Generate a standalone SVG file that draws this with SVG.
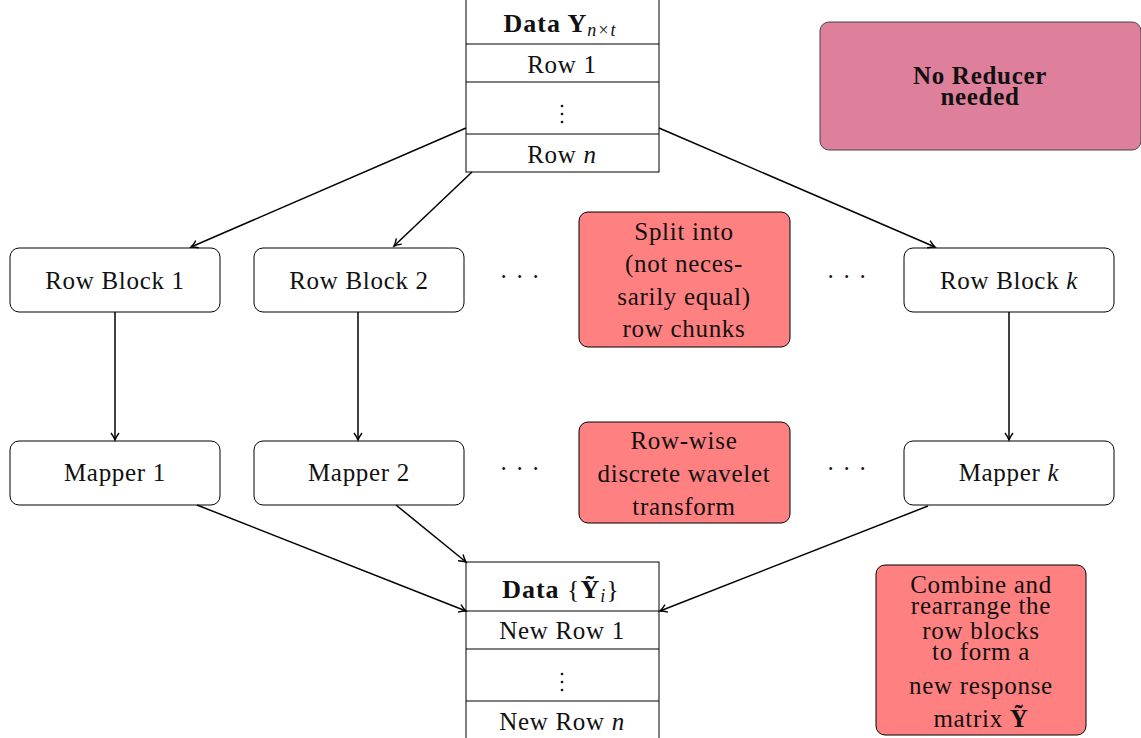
<svg xmlns="http://www.w3.org/2000/svg" width="1141" height="738" viewBox="0 0 1141 738">
<defs>
<style>
.t{font-family:"Liberation Serif","DejaVu Serif",serif;font-size:25px;fill:#111;text-anchor:middle;letter-spacing:0.7px}
.b{font-weight:bold}
.i{font-style:italic}
.h{font-size:26px;letter-spacing:1px}
.box{fill:#fff;stroke:#000;stroke-width:1}
.red{fill:#FF8080;stroke:#000;stroke-width:1}
.pink{fill:#DE7F9C;stroke:#444;stroke-width:1}
.tab{fill:#fff;stroke:#000;stroke-width:1}
.c{fill:none;stroke:#000;stroke-width:1.5;marker-end:url(#ah)}
.dot{fill:#111}
</style>
<marker id="ah" markerWidth="12" markerHeight="12" refX="9" refY="5" orient="auto" markerUnits="userSpaceOnUse">
<path d="M2,1 Q6,4 9,5 Q6,6 2,9" fill="none" stroke="#000" stroke-width="1.4"/>
</marker>
</defs>

<g id="data-top">
<rect class="tab" x="466" y="-1" width="193" height="173"/>
<line x1="466" y1="44" x2="659" y2="44" stroke="#000"/>
<line x1="466" y1="82" x2="659" y2="82" stroke="#000"/>
<line x1="466" y1="134" x2="659" y2="134" stroke="#000"/>
<text class="t b h" x="560" y="32">Data Y<tspan class="i" font-weight="normal" font-size="18" dy="4">n×t</tspan></text>
<text class="t" x="562" y="73">Row 1</text>
<circle class="dot" cx="562" cy="106" r="1.3"/>
<circle class="dot" cx="562" cy="114" r="1.3"/>
<circle class="dot" cx="562" cy="122" r="1.3"/>
<text class="t" x="562" y="163">Row <tspan class="i">n</tspan></text>
</g>

<g id="no-reducer">
<rect class="pink" x="820" y="22" width="321" height="128" rx="9"/>
<text class="t b" x="980" y="84">No Reducer</text>
<text class="t b" x="980" y="105">needed</text>
</g>

<g id="rowblock1">
<rect class="box" x="10" y="248" width="210" height="64" rx="9"/>
<text class="t" x="115" y="289">Row Block 1</text>
</g>
<g id="rowblock2">
<rect class="box" x="254" y="248" width="210" height="64" rx="9"/>
<text class="t" x="359" y="289">Row Block 2</text>
</g>
<g id="dots-rb1"><text class="t" x="520" y="285">· · ·</text></g>
<g id="split">
<rect class="red" x="579" y="212" width="211" height="135" rx="9"/>
<text class="t" x="684" y="240">Split into</text>
<text class="t" x="684" y="272">(not neces-</text>
<text class="t" x="684" y="305">sarily equal)</text>
<text class="t" x="684" y="337">row chunks</text>
</g>
<g id="dots-rb2"><text class="t" x="847" y="285">· · ·</text></g>
<g id="rowblockk">
<rect class="box" x="904" y="248" width="210" height="64" rx="9"/>
<text class="t" x="1009" y="289">Row Block <tspan class="i">k</tspan></text>
</g>

<g id="mapper1">
<rect class="box" x="10" y="441" width="210" height="64" rx="9"/>
<text class="t" x="115" y="481">Mapper 1</text>
</g>
<g id="mapper2">
<rect class="box" x="254" y="441" width="210" height="64" rx="9"/>
<text class="t" x="359" y="481">Mapper 2</text>
</g>
<g id="dots-m1"><text class="t" x="520" y="477">· · ·</text></g>
<g id="dwt">
<rect class="red" x="579" y="422" width="211" height="101" rx="9"/>
<text class="t" x="684" y="449">Row-wise</text>
<text class="t" x="684" y="482">discrete wavelet</text>
<text class="t" x="684" y="515">transform</text>
</g>
<g id="dots-m2"><text class="t" x="847" y="477">· · ·</text></g>
<g id="mapperk">
<rect class="box" x="904" y="441" width="210" height="64" rx="9"/>
<text class="t" x="1009" y="481">Mapper <tspan class="i">k</tspan></text>
</g>

<g id="data-bottom">
<rect class="tab" x="466" y="562" width="193" height="180"/>
<line x1="466" y1="611" x2="659" y2="611" stroke="#000"/>
<line x1="466" y1="649" x2="659" y2="649" stroke="#000"/>
<line x1="466" y1="701" x2="659" y2="701" stroke="#000"/>
<text class="t b h" x="561" y="598">Data <tspan font-weight="normal">{</tspan>Ỹ<tspan class="i" font-weight="normal" font-size="18" dy="4">i</tspan><tspan font-weight="normal" dy="-4">}</tspan></text>
<text class="t" x="562" y="639">New Row 1</text>
<circle class="dot" cx="562" cy="674" r="1.3"/>
<circle class="dot" cx="562" cy="682" r="1.3"/>
<circle class="dot" cx="562" cy="690" r="1.3"/>
<text class="t" x="562" y="730">New Row <tspan class="i">n</tspan></text>
</g>

<g id="combine">
<rect class="red" x="876" y="565" width="210" height="170" rx="9"/>
<text class="t" x="981" y="593">Combine and</text>
<text class="t" x="981" y="614">rearrange the</text>
<text class="t" x="981" y="639">row blocks</text>
<text class="t" x="981" y="660">to form a</text>
<text class="t" x="981" y="694">new response</text>
<text class="t" x="981" y="727">matrix <tspan class="b">Ỹ</tspan></text>
</g>

<g id="connectors">
<path class="c" d="M466,128 L191,247"/>
<path class="c" d="M472,172 L394,246"/>
<path class="c" d="M659,128 L935,247"/>
<path class="c" d="M115,312 L115,440"/>
<path class="c" d="M358,312 L358,440"/>
<path class="c" d="M1009,312 L1009,440"/>
<path class="c" d="M197,505 L466,611"/>
<path class="c" d="M396,505 L466,562"/>
<path class="c" d="M928,506 L660,611"/>
</g>
</svg>
